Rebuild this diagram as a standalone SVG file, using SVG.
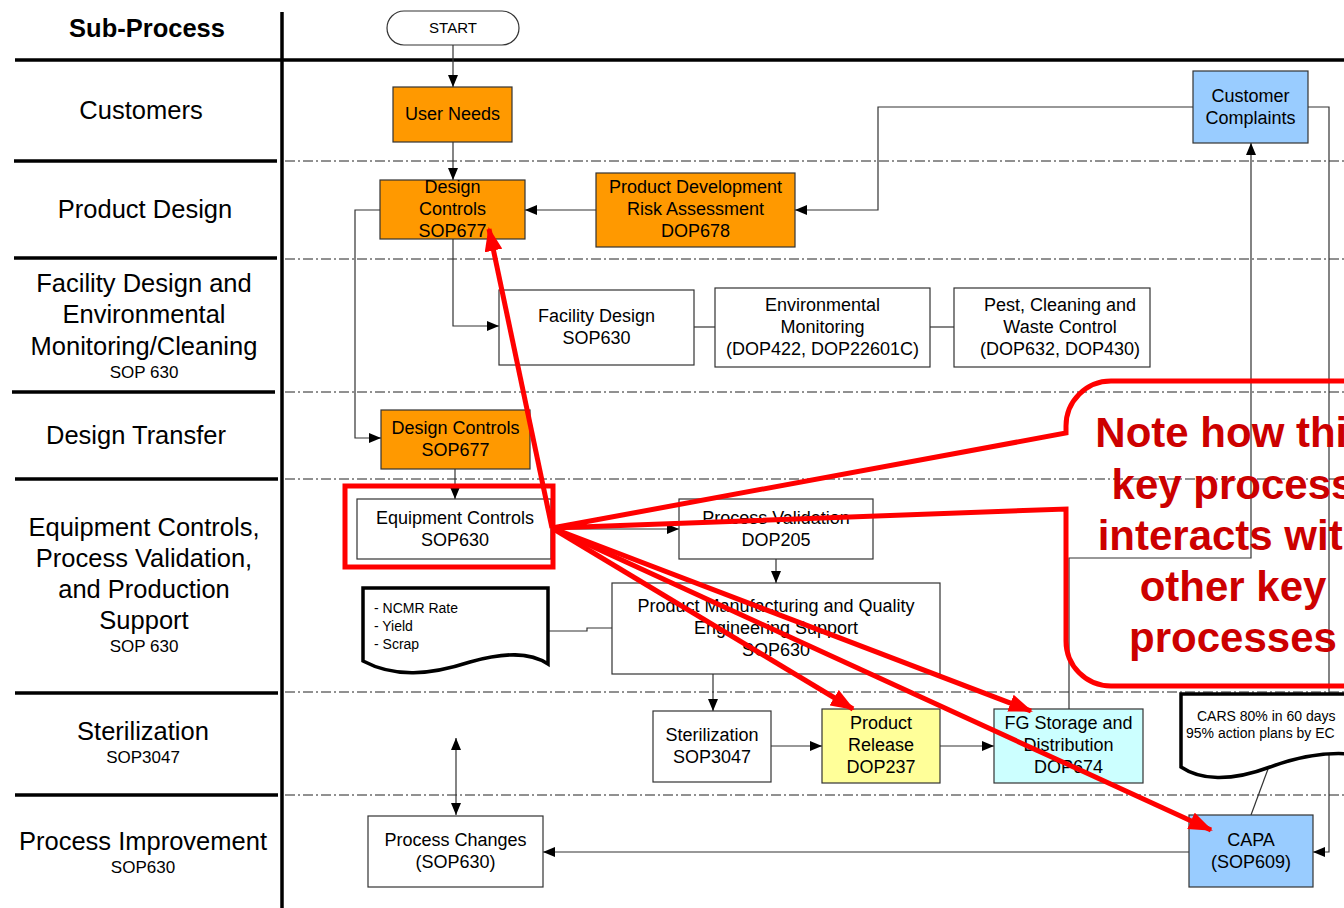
<svg xmlns="http://www.w3.org/2000/svg" width="1344" height="908" viewBox="0 0 1344 908">
<defs>
<style>
.lane{stroke:#000;stroke-width:3.5;fill:none}
.dash{stroke:#222;stroke-width:1;stroke-dasharray:10 3 2 3;fill:none}
.lbl{font-family:"Liberation Sans",Arial,sans-serif;font-size:25.5px;fill:#000;text-anchor:middle}
.sm{font-family:"Liberation Sans",Arial,sans-serif;font-size:17px;fill:#000;text-anchor:middle}
.box{stroke:#333;stroke-width:1.2}
.t{font-family:"Liberation Sans",Arial,sans-serif;font-size:18px;fill:#000;text-anchor:middle}
.doc{font-family:"Liberation Sans",Arial,sans-serif;font-size:14px;fill:#000}
.c{stroke:#333;stroke-width:1.2;fill:none}
.red{stroke:#ff0000;stroke-width:5;fill:none}
.note{font-family:"Liberation Sans",Arial,sans-serif;font-size:42px;font-weight:bold;fill:#cc0000;text-anchor:middle}
</style>
<marker id="ah" markerUnits="userSpaceOnUse" markerWidth="12" markerHeight="10" refX="12" refY="5" orient="auto-start-reverse">
<path d="M0,0 L12,5 L0,10 z" fill="#000"/>
</marker>
<marker id="rh" markerUnits="userSpaceOnUse" markerWidth="24" markerHeight="18" refX="22" refY="9" orient="auto">
<path d="M0,0 L24,9 L0,18 z" fill="#ff0000"/>
</marker>
</defs>
<rect width="1344" height="908" fill="#fff"/>

<g id="lanes">
<line class="lane" x1="282" y1="12" x2="282" y2="908"/>
<line class="lane" x1="15" y1="60" x2="1344" y2="60"/>
<line class="lane" x1="14" y1="161" x2="277" y2="161"/>
<line class="lane" x1="14" y1="258" x2="277" y2="258"/>
<line class="lane" x1="12" y1="392" x2="275" y2="392"/>
<line class="lane" x1="15" y1="479" x2="278" y2="479"/>
<line class="lane" x1="15" y1="693" x2="278" y2="693"/>
<line class="lane" x1="15" y1="795" x2="278" y2="795"/>
<line class="dash" x1="285" y1="161" x2="1344" y2="161"/>
<line class="dash" x1="285" y1="259" x2="1344" y2="259"/>
<line class="dash" x1="285" y1="392" x2="1344" y2="392"/>
<line class="dash" x1="285" y1="479" x2="1344" y2="479"/>
<line class="dash" x1="285" y1="692" x2="1344" y2="692"/>
<line class="dash" x1="285" y1="795" x2="1344" y2="795"/>
<text x="147" y="37" class="lbl" font-weight="bold">Sub-Process</text>
<text x="141" y="119" class="lbl">Customers</text>
<text x="145" y="218" class="lbl">Product Design</text>
<text x="144" y="292" class="lbl">Facility Design and</text>
<text x="144" y="323" class="lbl">Environmental</text>
<text x="144" y="355" class="lbl">Monitoring/Cleaning</text>
<text x="144" y="378" class="sm">SOP 630</text>
<text x="136" y="444" class="lbl">Design Transfer</text>
<text x="144" y="536" class="lbl">Equipment Controls,</text>
<text x="144" y="567" class="lbl">Process Validation,</text>
<text x="144" y="598" class="lbl">and Production</text>
<text x="144" y="629" class="lbl">Support</text>
<text x="144" y="652" class="sm">SOP 630</text>
<text x="143" y="740" class="lbl">Sterilization</text>
<text x="143" y="763" class="sm">SOP3047</text>
<text x="143" y="850" class="lbl">Process Improvement</text>
<text x="143" y="873" class="sm">SOP630</text>
</g>

<g id="connectors">
<line class="c" x1="453" y1="45" x2="453" y2="87" marker-end="url(#ah)"/>
<line class="c" x1="453" y1="142" x2="453" y2="180" marker-end="url(#ah)"/>
<line class="c" x1="596" y1="210" x2="525" y2="210" marker-end="url(#ah)"/>
<polyline class="c" points="1193,107 878,107 878,210 795,210" marker-end="url(#ah)"/>
<polyline class="c" points="1308,107 1329,107 1329,852 1313,852" marker-end="url(#ah)"/>
<polyline class="c" points="1069,709 1069,558 1251,558 1251,143" marker-end="url(#ah)"/>
<polyline class="c" points="380,210 355,210 355,438 381,438" marker-end="url(#ah)"/>
<polyline class="c" points="453,239 453,326 499,326" marker-end="url(#ah)"/>
<line class="c" x1="694" y1="327" x2="715" y2="327"/>
<line class="c" x1="930" y1="327" x2="954" y2="327"/>
<line class="c" x1="455" y1="469" x2="455" y2="499" marker-end="url(#ah)"/>
<line class="c" x1="551" y1="529" x2="679" y2="529" marker-end="url(#ah)"/>
<line class="c" x1="776" y1="559" x2="776" y2="583" marker-end="url(#ah)"/>
<polyline class="c" points="548,631 587,631 587,628 612,628"/>
<line class="c" x1="713" y1="674" x2="713" y2="711" marker-end="url(#ah)"/>
<line class="c" x1="771" y1="746" x2="822" y2="746" marker-end="url(#ah)"/>
<line class="c" x1="940" y1="746" x2="994" y2="746" marker-end="url(#ah)"/>
<line class="c" x1="1189" y1="852" x2="543" y2="852" marker-end="url(#ah)"/>
<line class="c" x1="456" y1="738" x2="456" y2="815" marker-start="url(#ah)" marker-end="url(#ah)"/>
<line class="c" x1="1251" y1="815" x2="1268" y2="769"/>
</g>

<g id="start">
<rect x="387" y="11" width="132" height="34" rx="17" fill="#fff" stroke="#333" stroke-width="1.2"/>
<text x="453" y="33" class="t" style="font-size:15px">START</text>
</g>
<g id="user-needs">
<rect class="box" x="393" y="87" width="119" height="55" fill="#ff9900"/>
<text x="452.5" y="120" class="t">User Needs</text>
</g>
<g id="design-controls-pd">
<rect class="box" x="380" y="180" width="145" height="59" fill="#ff9900"/>
<text x="452.5" y="193" class="t">Design</text>
<text x="452.5" y="215" class="t">Controls</text>
<text x="452.5" y="237" class="t">SOP677</text>
</g>
<g id="pdra">
<rect class="box" x="596" y="173" width="199" height="74" fill="#ff9900"/>
<text x="695.5" y="193" class="t">Product Development</text>
<text x="695.5" y="215" class="t">Risk Assessment</text>
<text x="695.5" y="237" class="t">DOP678</text>
</g>
<g id="customer-complaints">
<rect class="box" x="1193" y="71" width="115" height="72" fill="#99ccff"/>
<text x="1250.5" y="102" class="t">Customer</text>
<text x="1250.5" y="124" class="t">Complaints</text>
</g>
<g id="facility-design">
<rect class="box" x="499" y="290" width="195" height="75" fill="#fff"/>
<text x="596.5" y="322" class="t">Facility Design</text>
<text x="596.5" y="344" class="t">SOP630</text>
</g>
<g id="env-monitoring">
<rect class="box" x="715" y="288" width="215" height="79" fill="#fff"/>
<text x="822.5" y="311" class="t">Environmental</text>
<text x="822.5" y="333" class="t">Monitoring</text>
<text x="822.5" y="355" class="t">(DOP422, DOP22601C)</text>
</g>
<g id="pest-control">
<rect class="box" x="954" y="288" width="196" height="79" fill="#fff"/>
<text x="1060" y="311" class="t">Pest, Cleaning and</text>
<text x="1060" y="333" class="t">Waste Control</text>
<text x="1060" y="355" class="t">(DOP632, DOP430)</text>
</g>
<g id="design-controls-dt">
<rect class="box" x="381" y="410" width="149" height="59" fill="#ff9900"/>
<text x="455.5" y="434" class="t">Design Controls</text>
<text x="455.5" y="456" class="t">SOP677</text>
</g>
<g id="equipment-controls">
<rect class="box" x="357" y="499" width="194" height="60" fill="#fff"/>
<text x="455" y="524" class="t">Equipment Controls</text>
<text x="455" y="546" class="t">SOP630</text>
</g>
<g id="process-validation">
<rect class="box" x="679" y="499" width="194" height="60" fill="#fff"/>
<text x="776" y="524" class="t">Process Validation</text>
<text x="776" y="546" class="t">DOP205</text>
</g>
<g id="pmqes">
<rect class="box" x="612" y="583" width="328" height="91" fill="#fff"/>
<text x="776" y="612" class="t">Product Manufacturing and Quality</text>
<text x="776" y="634" class="t">Engineering Support</text>
<text x="776" y="656" class="t">SOP630</text>
</g>
<g id="ncmr-doc">
<path d="M363,588 H548 V664 C530,652 505,652 470,662 C430,675 395,678 363,661 Z" fill="#fff" stroke="#000" stroke-width="3.5"/>
<text x="374" y="613" class="doc">- NCMR Rate</text>
<text x="374" y="631" class="doc">- Yield</text>
<text x="374" y="649" class="doc">- Scrap</text>
</g>
<g id="sterilization">
<rect class="box" x="653" y="711" width="118" height="71" fill="#fff"/>
<text x="712" y="741" class="t">Sterilization</text>
<text x="712" y="763" class="t">SOP3047</text>
</g>
<g id="product-release">
<rect class="box" x="822" y="709" width="118" height="74" fill="#ffff99"/>
<text x="881" y="729" class="t">Product</text>
<text x="881" y="751" class="t">Release</text>
<text x="881" y="773" class="t">DOP237</text>
</g>
<g id="fg-storage">
<rect class="box" x="994" y="709" width="149" height="74" fill="#ccffff"/>
<text x="1068.5" y="729" class="t">FG Storage and</text>
<text x="1068.5" y="751" class="t">Distribution</text>
<text x="1068.5" y="773" class="t">DOP674</text>
</g>
<g id="cars-doc">
<path d="M1350,694 H1181 V767 C1200,780 1230,782 1270,767 C1300,756 1325,752 1350,754" fill="#fff" stroke="#000" stroke-width="3.5"/>
<text x="1197" y="721" class="doc">CARS 80% in 60 days</text>
<text x="1186" y="738" class="doc">95% action plans by EC</text>
</g>
<g id="capa">
<rect class="box" x="1189" y="815" width="124" height="72" fill="#99ccff"/>
<text x="1251" y="846" class="t">CAPA</text>
<text x="1251" y="868" class="t">(SOP609)</text>
</g>
<g id="process-changes">
<rect class="box" x="368" y="816" width="175" height="71" fill="#fff"/>
<text x="455.5" y="846" class="t">Process Changes</text>
<text x="455.5" y="868" class="t">(SOP630)</text>
</g>

<g id="highlight">
<rect x="345" y="486" width="208" height="81" class="red" stroke-width="4.5"/>
<line class="red" x1="552" y1="528" x2="489" y2="229" marker-end="url(#rh)"/>
<line class="red" x1="552" y1="528" x2="853" y2="709" marker-end="url(#rh)"/>
<line class="red" x1="552" y1="528" x2="1031" y2="711" marker-end="url(#rh)"/>
<line class="red" x1="552" y1="528" x2="1211" y2="830" marker-end="url(#rh)"/>
<path class="red" stroke-width="4.5" d="M552,528 L1066,433 V426 A45,45 0 0 1 1111,381 H1350 M1350,686 H1111 A45,45 0 0 1 1066,641 V509 L552,528"/>
<text x="1233" y="447" class="note">Note how this</text>
<text x="1233" y="499" class="note">key process</text>
<text x="1233" y="550" class="note">interacts with</text>
<text x="1233" y="601" class="note">other key</text>
<text x="1233" y="652" class="note">processes</text>
</g>
</svg>
